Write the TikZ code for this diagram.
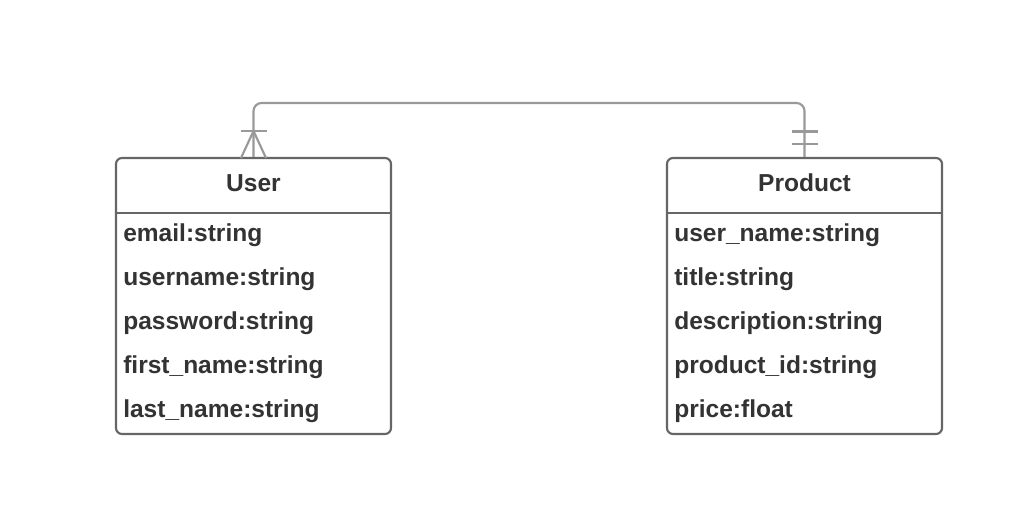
\documentclass[tikz,border=0pt]{standalone}
\usepackage{fontspec}
\setmainfont{Liberation Sans}
\usetikzlibrary{calc}
\definecolor{txt}{HTML}{333333}
\definecolor{boxc}{HTML}{666666}
\definecolor{conc}{HTML}{999999}
\tikzset{
  entity/.style={draw=boxc, line width=1.6pt, rounded corners=4.5pt, minimum width=206.25pt, minimum height=207pt, inner sep=0pt},
  conn/.style={draw=conc, line width=1.6pt},
  head/.style={text=txt, font=\fontsize{18.4}{22}\selectfont\bfseries, anchor=base, inner sep=0pt},
  attr/.style={text=txt, font=\fontsize{18.4}{22}\selectfont\bfseries, anchor=base west, inner sep=0pt},
}
\begin{document}
\begin{tikzpicture}[x=0.75pt, y=-0.75pt]
\useasboundingbox (0,0) rectangle (1030,504);
\fill[white] (0,0) rectangle (1030,504);
% entities
\node[entity] (user) at (253.5,296) {};
\node[entity] (product) at (804.5,296) {};
\draw[draw=boxc, line width=1.6pt] (user.west |- 0,213) -- (user.east |- 0,213);
\draw[draw=boxc, line width=1.6pt] (product.west |- 0,213) -- (product.east |- 0,213);
\node[head] (uh) at (253.5,191) {User};
\node[head] (ph) at (804.5,191) {Product};
\node[attr] (u1) at (123,241) {email:string};
\node[attr] (u2) at (123,285) {username:string};
\node[attr] (u3) at (123,329) {password:string};
\node[attr] (u4) at (123,373) {first\_name:string};
\node[attr] (u5) at (123,417) {last\_name:string};
\node[attr] (p1) at (674,241) {user\_name:string};
\node[attr] (p2) at (674,285) {title:string};
\node[attr] (p3) at (674,329) {description:string};
\node[attr] (p4) at (674,373) {product\_id:string};
\node[attr] (p5) at (674,417) {price:float};
% connector
\coordinate (top) at (530,103);
\draw[conn, rounded corners=6pt] (user.north) |- (top) -| (product.north);
% crow's foot (many) at user
\draw[conn] (240.5,131) -- (266.5,131);
\draw[conn] (241,158) -- (253.5,131) -- (266,158);
% one-and-only-one at product
\draw[conn] (791.5,131.5) -- (817.5,131.5);
\draw[conn] (791.5,144) -- (817.5,144);
\end{tikzpicture}
\end{document}
